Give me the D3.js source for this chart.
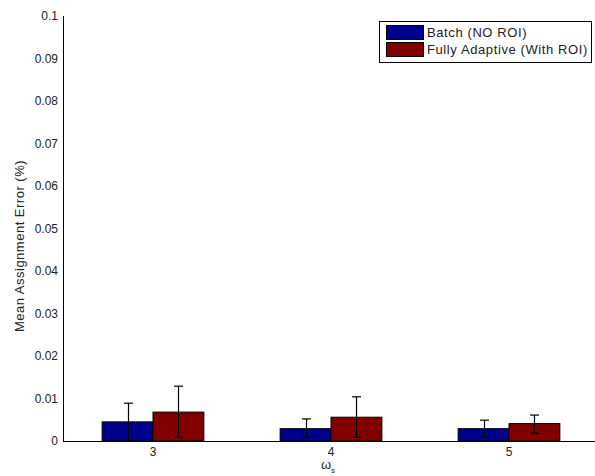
<!DOCTYPE html>
<html>
<head>
<meta charset="utf-8">
<script src="https://cdn.jsdelivr.net/npm/d3@7"></script>
<style>
  body { margin: 0; background: #fff; }
  svg { display: block; font-family: "Liberation Sans", Arial, sans-serif; }
</style>
</head>
<body>
<div id="chart"></div>
<script>
// data
var groups = [3, 4, 5];
var seriesNames = ['Batch (NO ROI)', 'Fully Adaptive (With ROI)'];
var seriesColors = ['#00008f', '#800000'];
var batchMean = [0.0045, 0.0029, 0.0029];
var adaptiveMean = [0.0068, 0.0056, 0.0041];
var batchLow = [0.0002, 0.0009, 0.0009];
var batchHigh = [0.0089, 0.0052, 0.0049];
var adaptiveLow = [0.0009, 0.0009, 0.0018];
var adaptiveHigh = [0.0129, 0.0104, 0.0061];
var yTicks = [0, 0.01, 0.02, 0.03, 0.04, 0.05, 0.06, 0.07, 0.08, 0.09, 0.1];

(function () {
  var W = 595, H = 476;
  var padL = 64, padT = 16, padB = 441, padR = 598;

  var svg = d3.select('#chart').append('svg')
    .attr('width', W).attr('height', H);

  var x = d3.scaleLinear().domain([2.5, 5.5]).range([padL, padR]);
  var y = d3.scaleLinear().domain([0, 0.1]).range([padB, padT]);

  // matlab grouped bar: group width 0.571, two bars
  var barW = 0.2857;
  var series = [
    { mean: batchMean, low: batchLow, high: batchHigh, off: -barW / 2 },
    { mean: adaptiveMean, low: adaptiveLow, high: adaptiveHigh, off: barW / 2 }
  ];

  series.forEach(function (s, si) {
    svg.append('g').selectAll('rect').data(groups).enter().append('rect')
      .attr('x', function (d) { return x(d + s.off - barW / 2); })
      .attr('width', function (d) { return x(d + barW) - x(d); })
      .attr('y', function (d, i) { return y(s.mean[i]); })
      .attr('height', function (d, i) { return y(0) - y(s.mean[i]); })
      .attr('fill', seriesColors[si])
      .attr('stroke', '#000')
      .attr('stroke-width', 1);
  });

  // axis lines
  svg.append('line')
    .attr('x1', padL).attr('x2', W).attr('y1', y(0) + 0.5).attr('y2', y(0) + 0.5)
    .attr('stroke', '#000');
  svg.append('line')
    .attr('x1', padL - 0.5).attr('x2', padL - 0.5).attr('y1', padT).attr('y2', padB + 1)
    .attr('stroke', '#000');

  // error bars
  var cap = 4.5;
  series.forEach(function (s) {
    var g = svg.append('g').attr('stroke', '#000').attr('stroke-width', 1.2);
    groups.forEach(function (d, i) {
      var cx = Math.round(x(d + s.off)) + 0.5;
      g.append('line').attr('x1', cx).attr('x2', cx)
        .attr('y1', y(s.low[i])).attr('y2', y(s.high[i]));
      g.append('line').attr('x1', cx - cap).attr('x2', cx + cap)
        .attr('y1', y(s.high[i])).attr('y2', y(s.high[i]));
      g.append('line').attr('x1', cx - cap).attr('x2', cx + cap)
        .attr('y1', y(s.low[i])).attr('y2', y(s.low[i]));
    });
  });

  // tick labels
  svg.append('g').selectAll('text').data(yTicks).enter().append('text')
    .attr('x', padL - 6)
    .attr('y', function (d) { return y(d) + 4; })
    .attr('text-anchor', 'end')
    .attr('font-size', 12)
    .attr('fill', '#222')
    .text(function (d) { return d3.format('~g')(d); });

  svg.append('g').selectAll('text').data(groups).enter().append('text')
    .attr('x', function (d) { return x(d); })
    .attr('y', 456)
    .attr('text-anchor', 'middle')
    .attr('font-size', 12)
    .attr('fill', '#222')
    .text(function (d) { return d; });

  // axis titles
  svg.append('text')
    .attr('transform', 'translate(24,246) rotate(-90)')
    .attr('text-anchor', 'middle')
    .attr('font-size', 13)
    .attr('letter-spacing', 0.5)
    .attr('fill', '#222')
    .text('Mean Assignment Error (%)');

  var xl = svg.append('text')
    .attr('x', 328).attr('y', 469)
    .attr('text-anchor', 'middle')
    .attr('font-size', 13)
    .attr('fill', '#222');
  xl.append('tspan').text('ω');
  xl.append('tspan').attr('font-size', 8).attr('dy', 4).text('s');

  // legend
  var lg = svg.append('g');
  lg.append('rect')
    .attr('x', 379.5).attr('y', 21.5).attr('width', 212).attr('height', 41)
    .attr('fill', '#fff').attr('stroke', '#000');
  seriesNames.forEach(function (name, i) {
    lg.append('rect')
      .attr('x', 386.5).attr('y', 25.5 + i * 17).attr('width', 37).attr('height', 14)
      .attr('fill', seriesColors[i]).attr('stroke', '#000');
    lg.append('text')
      .attr('x', 427).attr('y', 37 + i * 17)
      .attr('font-size', 13)
      .attr('letter-spacing', 0.6)
      .attr('fill', '#222')
      .text(name);
  });
})();
</script>
</body>
</html>
